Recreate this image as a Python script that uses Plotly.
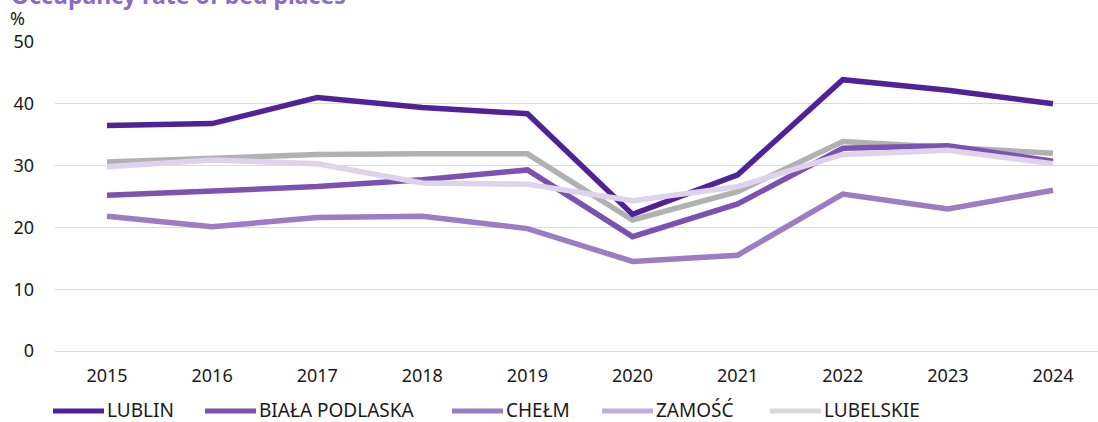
import plotly.graph_objects as go

years = [2015, 2016, 2017, 2018, 2019, 2020, 2021, 2022, 2023, 2024]

lublin = [36.5, 36.8, 41.0, 39.4, 38.4, 22.1, 28.5, 43.9, 42.2, 40.0]
biala_podlaska = [25.2, 25.9, 26.6, 27.7, 29.3, 18.5, 23.8, 32.8, 33.2, 30.7]
chelm = [21.8, 20.1, 21.6, 21.8, 19.8, 14.5, 15.5, 25.4, 23.0, 26.0]
zamosc = [29.8, 30.9, 30.3, 27.2, 27.0, 24.3, 26.6, 31.8, 32.5, 30.3]
lubelskie = [30.6, 31.3, 31.8, 31.9, 31.9, 21.2, 25.8, 33.9, 32.9, 32.0]

names = ["LUBLIN", "BIAŁA PODLASKA", "CHEŁM", "ZAMOŚĆ", "LUBELSKIE"]
series = [lublin, biala_podlaska, chelm, zamosc, lubelskie]
line_colors = ["#512297", "#7a52b1", "#9a7dc3", "#ddd3eb", "#b1b1b1"]
legend_colors = ["#512297", "#7a52b1", "#9a7dc3", "#bfaedc", "#d9d9d9"]

W, H = 1098, 422
L, R, T, B = 55, 0, 42, 71
pw, ph = W - L - R, H - T - B

def px(x):
  return (x - L) / pw

def py(y):
  return (H - B - y) / ph

fig = go.Figure()

# grey regional line at the back, zamość drawn last
for i in [4, 0, 1, 2, 3]:
  fig.add_trace(go.Scatter(
    x=years, y=series[i], mode="lines", name=names[i],
    line=dict(color=line_colors[i], width=5.5),
    showlegend=False, hoverinfo="skip"
  ))

# hand-built legend (long line samples)
legend_x = [51, 203, 450, 600, 768]
shapes = []
annotations = []
for name, col, x0 in zip(names, legend_colors, legend_x):
  shapes.append(dict(type="line", xref="paper", yref="paper",
                     x0=px(x0 + 2), x1=px(x0 + 53), y0=py(411), y1=py(411),
                     line=dict(color=col, width=5)))
  annotations.append(dict(text=name, xref="paper", yref="paper",
                          x=px(x0 + 54), y=py(410), xanchor="left", yanchor="middle",
                          showarrow=False, font=dict(size=19, color="#1a1a1a")))

annotations.append(dict(text="%", xref="paper", yref="paper", x=px(8), y=py(18.5),
                        xanchor="left", yanchor="middle", showarrow=False,
                        font=dict(size=18, color="#1a1a1a")))
annotations.append(dict(text="<b>Occupancy rate of bed places</b>", xref="paper", yref="paper",
                        x=px(9), y=py(13), xanchor="left", yanchor="bottom", showarrow=False,
                        font=dict(size=23, color="#8a6cc4")))

x_lo = 2015 - (107 - L) / 105.11
x_hi = 2024 + (W - R - 1053) / 105.11

fig.update_layout(
  width=W, height=H,
  margin=dict(l=L, r=R, t=T, b=B),
  paper_bgcolor="white", plot_bgcolor="white",
  font=dict(family="Noto Sans", size=18, color="#1a1a1a"),
  shapes=shapes, annotations=annotations,
  xaxis=dict(range=[x_lo, x_hi], tickvals=years, showgrid=False, zeroline=False,
             showline=False, ticklabelstandoff=12, fixedrange=True),
  yaxis=dict(range=[0, 50], dtick=10, showgrid=True, gridcolor="#dcdcdc", gridwidth=1,
             zeroline=True, zerolinecolor="#dcdcdc", zerolinewidth=1,
             showline=False, ticklabelstandoff=20, fixedrange=True),
)

fig.write_html("out.html", config={"displayModeBar": False},
               post_script="document.body.style.margin='0';")
